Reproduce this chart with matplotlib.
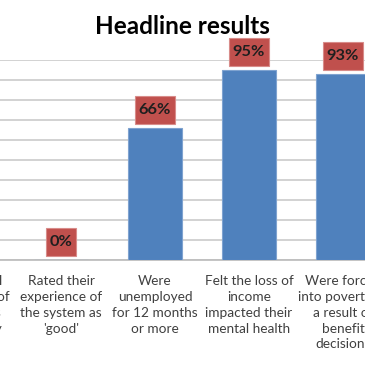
import numpy as np
import matplotlib
matplotlib.use("Agg")
import matplotlib.pyplot as plt
from matplotlib.path import Path
from matplotlib.ticker import MultipleLocator, PercentFormatter

plt.rcParams['font.family'] = ['Lato', 'DejaVu Sans']

title = "Headline results"
categories = [
    "Did not feel\nthe process of\nappeal was\nsatisfactory",
    "Rated their\nexperience of\nthe system as\n'good'",
    "Were\nunemployed\nfor 12 months\nor more",
    "Felt the loss of\nincome\nimpacted their\nmental health",
    "Were forced\ninto poverty as\na result of\nbenefit\ndecisions",
]
values = [np.nan, 0.00, 0.66, 0.95, 0.93]


def label_box(x0, y0, width, height, mutation_size, padx=0.22, pady=0.42):
    px = padx * mutation_size
    py = pady * mutation_size
    x0, y0 = x0 - px, y0 - py
    x1, y1 = x0 + width + 2 * px, y0 + height + 2 * py
    return Path([(x0, y0), (x1, y0), (x1, y1), (x0, y1), (x0, y0)], closed=True)


fig = plt.figure(figsize=(3.65, 3.65), dpi=100)
W = 365.0
ax = fig.add_axes([-80 / W, 105 / W, 470 / W, 200 / W])

x = np.arange(len(categories))
ax.bar(x, values, width=0.575, color='#4F81BD', edgecolor='#7FA3D0',
       linewidth=0.8, zorder=3)
ax.set_xlim(-0.5, len(categories) - 0.5)
ax.set_ylim(0, 1)
ax.yaxis.set_major_locator(MultipleLocator(0.1))
ax.yaxis.set_major_formatter(PercentFormatter(1, decimals=0))
ax.grid(axis='y', color='#CFCFCF', lw=1.3, zorder=0)
ax.set_axisbelow(True)
for s in ['top', 'right', 'left']:
    ax.spines[s].set_visible(False)
ax.spines['bottom'].set_color('#BFBFBF')
ax.spines['bottom'].set_linewidth(1.3)
ax.tick_params(axis='x', length=0, pad=11, labelsize=9.8, labelcolor='#404040')
ax.tick_params(axis='y', length=0)
ax.set_xticks(x, categories)
for t in ax.get_xticklabels():
    t.set_linespacing(1.38)

for xi, v in zip(x, values):
    if np.isnan(v):
        continue
    ax.annotate(f"{v:.0%}", (xi, v), xytext=(0, 13), textcoords='offset points',
                ha='center', va='center', fontsize=11.8, fontweight='bold',
                color='#1F1F1F',
                bbox=dict(boxstyle=label_box, fc='#C0504D',
                          ec='#D88C8A', lw=0.8), zorder=5)

fig.text(182 / W, 1 - 34 / W, title, ha='center', va='baseline',
         fontsize=17.5, fontweight='bold', color='black')

fig.savefig('out.png', dpi=100)
